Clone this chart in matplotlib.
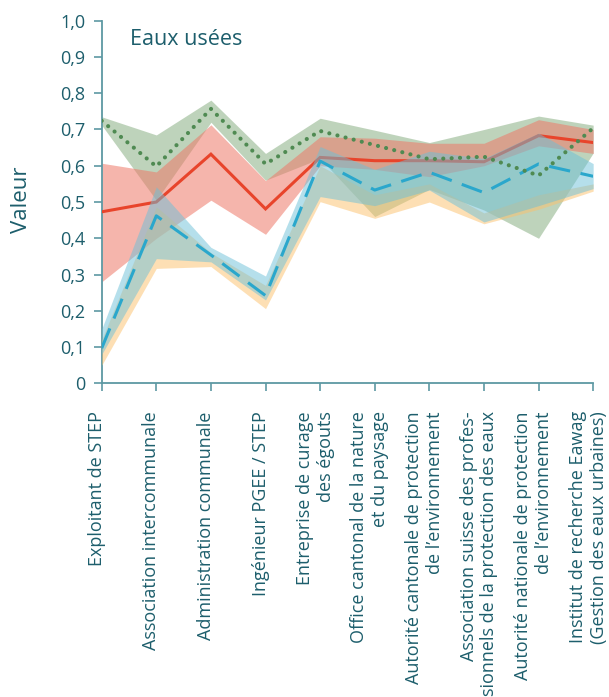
import matplotlib
matplotlib.use("Agg")
import matplotlib.pyplot as plt
import matplotlib.transforms as mtransforms
import numpy as np

plt.rcParams['font.family'] = ['Open Sans', 'DejaVu Sans']

categories = [
    "Exploitant de STEP",
    "Association intercommunale",
    "Administration communale",
    "Ingénieur PGEE / STEP",
    "Entreprise de curage\ndes égouts",
    "Office cantonal de la nature\net du paysage",
    "Autorité cantonale de protection\nde l’environnement",
    "Association suisse des profes-\nsionnels de la protection des eaux",
    "Autorité nationale de protection\nde l’environnement",
    "Institut de recherche Eawag\n(Gestion des eaux urbaines)",
]

# Red series (solid line) and its band
red_mean  = [0.473, 0.500, 0.632, 0.481, 0.623, 0.614, 0.614, 0.611, 0.683, 0.664]
red_low   = [0.280, 0.400, 0.505, 0.411, 0.600, 0.590, 0.570, 0.600, 0.655, 0.634]
red_high  = [0.607, 0.583, 0.713, 0.559, 0.680, 0.676, 0.662, 0.662, 0.727, 0.700]

# Green series (dotted line) and its band
green_mean = [0.724, 0.598, 0.757, 0.605, 0.696, 0.657, 0.618, 0.625, 0.573, 0.704]
green_low  = [0.712, 0.505, 0.720, 0.560, 0.620, 0.460, 0.535, 0.478, 0.400, 0.635]
green_high = [0.735, 0.685, 0.781, 0.634, 0.731, 0.698, 0.664, 0.700, 0.737, 0.712]

# Blue series (dashed line) and its band
blue_mean = [0.097, 0.462, 0.354, 0.242, 0.613, 0.533, 0.582, 0.526, 0.605, 0.571]
blue_low  = [0.080, 0.344, 0.335, 0.230, 0.515, 0.490, 0.533, 0.445, 0.490, 0.537]
blue_high = [0.150, 0.542, 0.375, 0.296, 0.653, 0.590, 0.640, 0.620, 0.690, 0.606]

# Orange band
orange_low  = [0.050, 0.317, 0.322, 0.206, 0.501, 0.455, 0.500, 0.440, 0.480, 0.530]
orange_high = [0.120, 0.487, 0.360, 0.270, 0.600, 0.520, 0.550, 0.470, 0.520, 0.550]

yticks = [0, 0.1, 0.2, 0.3, 0.4, 0.5, 0.6, 0.7, 0.8, 0.9, 1.0]
ytick_labels = ["0", "0,1", "0,2", "0,3", "0,4", "0,5", "0,6", "0,7", "0,8", "0,9", "1,0"]

TEAL = "#1d5e6c"
AXC = "#5d98a3"

fig = plt.figure(figsize=(6.09, 6.97), dpi=100)
ax = fig.add_axes([0.167, 0.450, 0.807, 0.5203])

x = np.arange(len(categories))

ax.fill_between(x, green_low, green_high, color="#7fa878", alpha=0.5, lw=0, zorder=1)
ax.fill_between(x, red_low, red_high, color="#ee7868", alpha=0.55, lw=0, zorder=2)
ax.plot(x, red_mean, color="#e8442b", lw=2.2, zorder=3, solid_joinstyle="miter")
ax.fill_between(x, orange_low, orange_high, color="#fcc06a", alpha=0.5, lw=0, zorder=3.5)
ax.fill_between(x, blue_low, blue_high, color="#6cc0d8", alpha=0.5, lw=0, zorder=4)
ax.plot(x, blue_mean, color="#2aa7cc", lw=2.2, ls=(0, (7, 3.5)), zorder=6)
ax.plot(x, green_mean, color="#4f8a52", lw=3.0, ls=(0, (0.01, 2.0)),
        dash_capstyle="round", zorder=7)

ax.set_xlim(0, 9)
ax.set_ylim(0, 1.0)
ax.set_yticks(yticks)
ax.set_yticklabels(ytick_labels)
ax.set_xticks(x)
ax.set_xticklabels(categories, rotation=90, ha="center", va="top",
                   multialignment="right")

for s in ["top", "right"]:
    ax.spines[s].set_visible(False)
for s in ["left", "bottom"]:
    ax.spines[s].set_color(AXC)
    ax.spines[s].set_linewidth(1.3)

ax.tick_params(axis="both", colors=AXC, labelcolor=TEAL, length=6, width=1.2,
               labelsize=13)
ax.tick_params(axis="y", pad=6)
ax.tick_params(axis="x", pad=14)

offset = mtransforms.ScaledTranslation(-5 / 100, 0, fig.dpi_scale_trans)
for lbl in ax.get_xticklabels():
    lbl.set_transform(lbl.get_transform() + offset)

ax.text(0.518, 0.933, "Eaux usées", color=TEAL, fontsize=15.5,
        ha="left", va="baseline", zorder=10)

fig.text(21.7 / 609, 1 - 200 / 697, "Valeur", rotation=90, color=TEAL,
         fontsize=16, ha="center", va="center")

fig.savefig("out.png", dpi=100)
